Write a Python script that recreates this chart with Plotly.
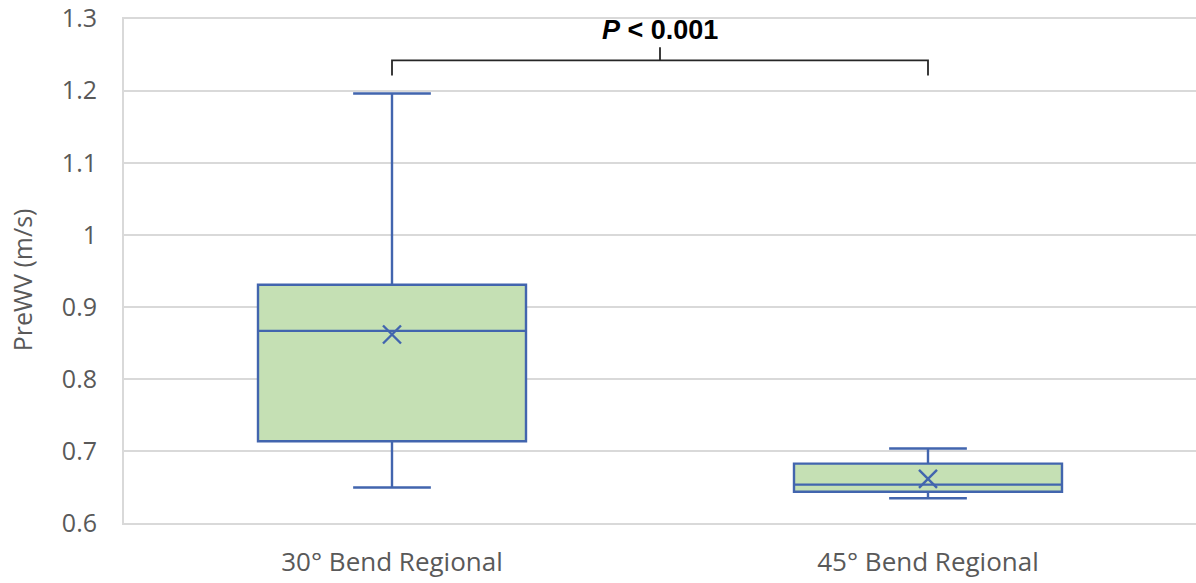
import plotly.graph_objects as go

categories = ["30° Bend Regional", "45° Bend Regional"]
q1 = [0.714, 0.644]
median = [0.867, 0.654]
q3 = [0.931, 0.683]
lower = [0.650, 0.635]
upper = [1.196, 0.704]
means = [0.862, 0.662]

y_ticks = [0.6, 0.7, 0.8, 0.9, 1.0, 1.1, 1.2, 1.3]
y_tick_text = ["0.6", "0.7", "0.8", "0.9", "1", "1.1", "1.2", "1.3"]

BLUE = "#4265AE"
FILL = "#C5E0B4"
GRID = "#D9D9D9"
TXT = "#595959"

fig = go.Figure()
fig.add_trace(go.Box(
    x=categories, q1=q1, median=median, q3=q3,
    lowerfence=lower, upperfence=upper,
    fillcolor=FILL, line=dict(color=BLUE, width=2.4),
    width=0.5, whiskerwidth=0.29, boxpoints=False, showlegend=False,
))
fig.add_trace(go.Scatter(
    x=categories, y=means, mode="markers",
    marker=dict(symbol="x-thin", size=18, line=dict(color=BLUE, width=2.4)),
    showlegend=False,
))

# significance bracket
fig.add_shape(type="path", path="M 0,1.221 L 0,1.242 L 1,1.242 L 1,1.221",
              xref="x", yref="y", line=dict(color="#262626", width=1.8))
fig.add_shape(type="line", x0=0.5, x1=0.5, y0=1.242, y1=1.26,
              xref="x", yref="y", line=dict(color="#262626", width=1.8))
fig.add_annotation(x=0.5, y=1.284, xref="x", yref="y",
                   text="<b><i>P</i> < 0.001</b>", showarrow=False,
                   font=dict(family="Liberation Sans, Arial", size=27, color="#000000"))

fig.add_annotation(x=-0.095, y=0.482, xref="paper", yref="paper",
                   xanchor="center", yanchor="middle",
                   text="PreWV (m/s)", textangle=-90, showarrow=False,
                   font=dict(family="Open Sans", size=25, color=TXT))

fig.update_layout(
    width=1196, height=583,
    margin=dict(l=124, r=0, t=17, b=58),
    paper_bgcolor="white", plot_bgcolor="white",
    font=dict(family="Open Sans", color=TXT, size=24),
)
fig.update_xaxes(type="category", range=[-0.5, 1.5], showgrid=False,
                 showline=False, zeroline=False,
                 ticks="outside", ticklen=14, tickcolor="rgba(0,0,0,0)",
                 tickfont=dict(size=26, color=TXT))
fig.update_yaxes(range=[0.598, 1.302], tickvals=y_ticks, ticktext=y_tick_text,
                 showgrid=True, gridcolor=GRID, gridwidth=2,
                 showline=True, linecolor=GRID, linewidth=2, zeroline=False,
                 ticks="outside", ticklen=20, tickcolor="rgba(0,0,0,0)",
                 tickfont=dict(size=25, color=TXT))

fig.write_html("out.html", config={"displayModeBar": False},
               post_script="document.body.style.margin='0';document.body.style.overflow='hidden';")
